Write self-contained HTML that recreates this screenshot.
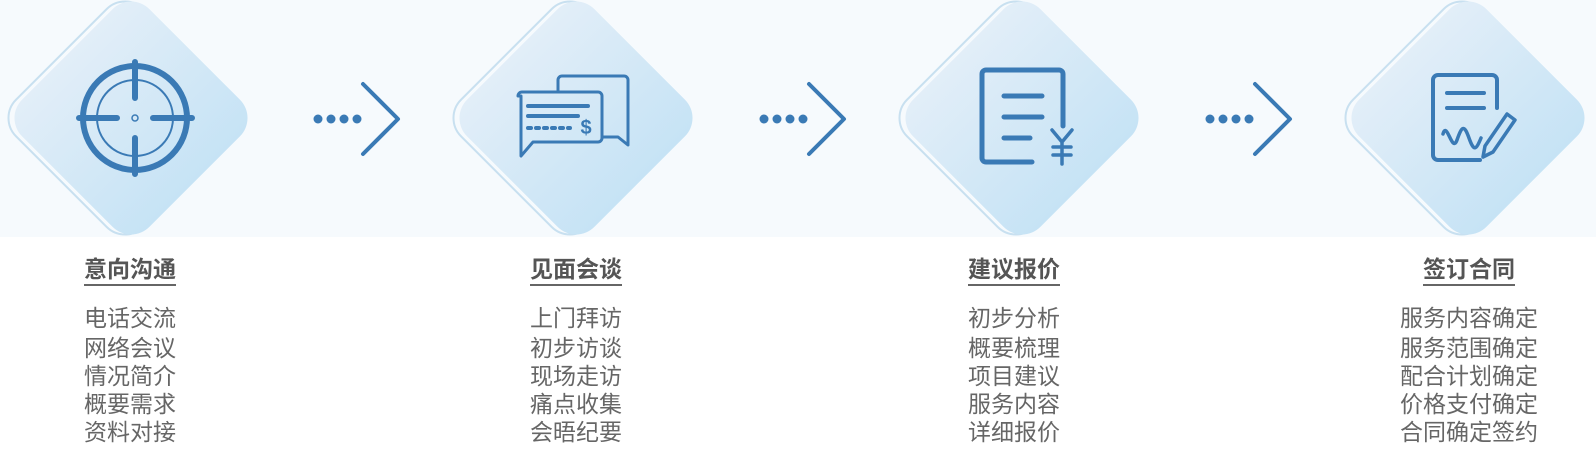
<!DOCTYPE html>
<html><head><meta charset="utf-8"><style>
body{margin:0;width:1596px;height:456px;background:#fff;position:relative;overflow:hidden;font-family:"Liberation Sans","Noto Sans CJK SC",sans-serif}
.band{position:absolute;left:0;top:0;width:1596px;height:237px;background:#f6fafd}
svg{position:absolute;left:0;top:0}
.col{position:absolute;top:256px;width:200px;text-align:center}
.t{font-size:23px;font-weight:bold;color:#555;display:inline-block;border-bottom:2px solid #666;line-height:27px;padding-bottom:1px}
.it{margin-top:18px;font-size:23px;color:#666;line-height:28px}
.it div:first-child{margin-bottom:2px}
</style></head><body>
<div class="band"></div>
<svg width="1596" height="456" viewBox="0 0 1596 456">
<defs>
<linearGradient id="g" x1="0" y1="0" x2="1" y2="0">
<stop offset="0" stop-color="#e2eef8"/><stop offset="1" stop-color="#c6e3f5"/></linearGradient>
<g id="d">
<rect x="-90" y="-90" width="180" height="180" rx="26" transform="translate(-6,0) rotate(45)" fill="none" stroke="#c8e0f0" stroke-width="2"/>
<rect x="-90" y="-90" width="180" height="180" rx="26" transform="rotate(45)" fill="url(#g)"/>
</g>
<g id="a" fill="#3a7ab5"><circle cx="-40" cy="0" r="4.5"/><circle cx="-27" cy="0" r="4.5"/><circle cx="-14" cy="0" r="4.5"/><circle cx="-1" cy="0" r="4.5"/>
<path d="M5,-35 L40,0 L5,35" fill="none" stroke="#3a7ab5" stroke-width="4" stroke-linecap="round" stroke-linejoin="round"/></g>
</defs>
<use href="#d" x="131" y="118"/><use href="#d" x="576" y="118"/><use href="#d" x="1022" y="118"/><use href="#d" x="1468" y="118"/>
<use href="#a" x="358" y="119"/><use href="#a" x="804" y="119"/><use href="#a" x="1250" y="119"/>
<g fill="none" stroke="#3a7ab5" stroke-linecap="round" stroke-linejoin="round">
<circle cx="135" cy="118" r="52" stroke-width="6"/>
<circle cx="135" cy="118" r="38" stroke-width="2"/>
<circle cx="135" cy="118" r="3" stroke-width="1.5"/>
<path d="M79,118H117M153,118H192M135,62V98M135,138V174" stroke-width="6"/>
<path d="M558,90V80a4,4 0 0 1 4,-4H624a4,4 0 0 1 4,4V145l-10,-8H603" stroke-width="3"/>
<path d="M518,96a4,4 0 0 1 4,-4H598a4,4 0 0 1 4,4V138a4,4 0 0 1 -4,4H533l-12,14V96z" stroke-width="3"/>
<path d="M528,106H588M528,116H578" stroke-width="4"/>
<path d="M528,128H570" stroke-width="4" stroke-dasharray="3 5"/>
<text x="586" y="134" font-size="20" font-weight="bold" fill="#3a7ab5" stroke="none" text-anchor="middle" font-family="Liberation Sans">$</text>
<path d="M1032,162H986a4,4 0 0 1 -4,-4V74a4,4 0 0 1 4,-4H1059a4,4 0 0 1 4,4V126" stroke-width="5"/>
<path d="M1004,96H1042M1004,117H1042M1004,138H1030" stroke-width="5"/>
<path d="M1052,130l10,12l10,-12M1062,142V164M1053,147H1071M1053,155H1071" stroke-width="3.5"/>
<path d="M1480,160H1438a5,5 0 0 1 -5,-5V80a5,5 0 0 1 5,-5H1492a5,5 0 0 1 5,5V108" stroke-width="4"/>
<path d="M1447,93H1484M1447,108H1484" stroke-width="4"/>
<path d="M1443,134c4,-14 9,20 14,6s7,-16 12,-2s7,12 12,0" stroke-width="3.5"/>
<path d="M1507,114l8,6l-22,32l-10,5l2,-11z" stroke-width="3.5"/>
</g>
</svg>
<div class="col" style="left:30px"><span class="t">意向沟通</span><div class="it"><div>电话交流</div><div>网络会议</div><div>情况简介</div><div>概要需求</div><div>资料对接</div></div></div>
<div class="col" style="left:476px"><span class="t">见面会谈</span><div class="it"><div>上门拜访</div><div>初步访谈</div><div>现场走访</div><div>痛点收集</div><div>会晤纪要</div></div></div>
<div class="col" style="left:914px"><span class="t">建议报价</span><div class="it"><div>初步分析</div><div>概要梳理</div><div>项目建议</div><div>服务内容</div><div>详细报价</div></div></div>
<div class="col" style="left:1369px"><span class="t">签订合同</span><div class="it"><div>服务内容确定</div><div>服务范围确定</div><div>配合计划确定</div><div>价格支付确定</div><div>合同确定签约</div></div></div>
</body></html>
